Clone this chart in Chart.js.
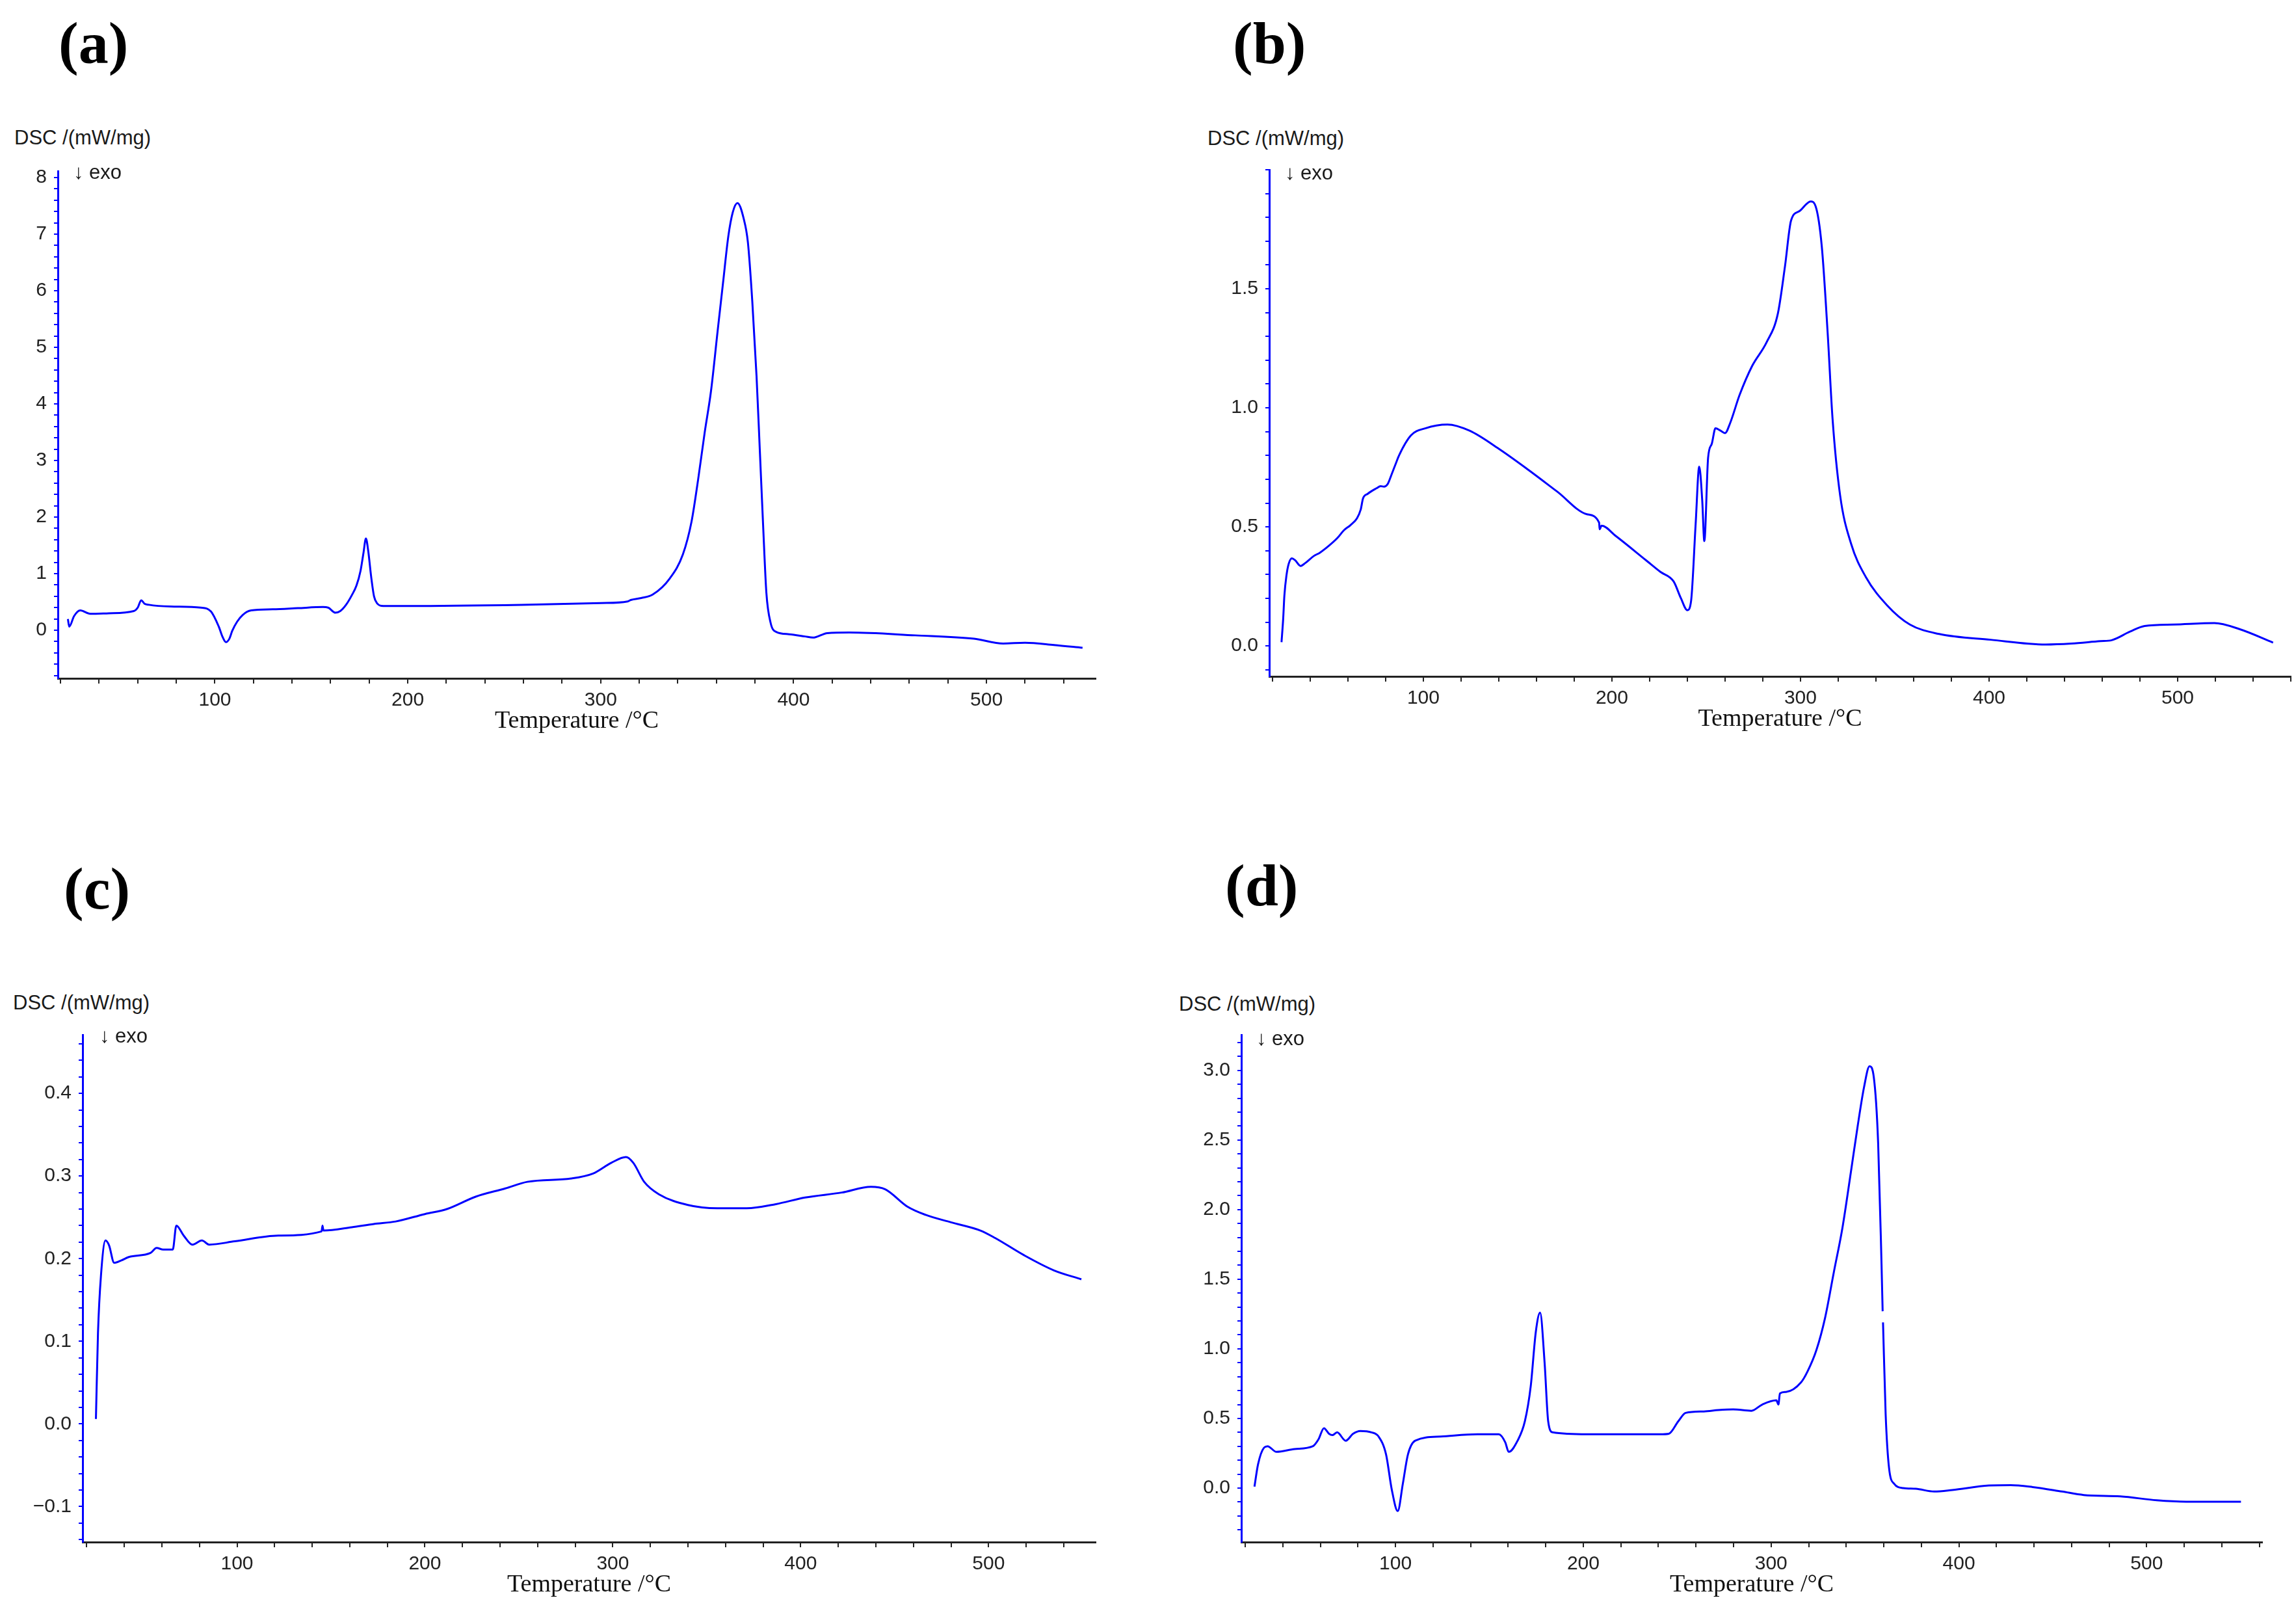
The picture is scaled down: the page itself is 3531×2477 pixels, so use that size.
<!DOCTYPE html>
<html><head><meta charset="utf-8">
<script src="https://cdn.jsdelivr.net/npm/chart.js@4.4.1/dist/chart.umd.min.js"></script>
<style>
html,body{margin:0;padding:0;background:#fff;width:3531px;height:2477px;overflow:hidden;position:relative}
canvas{position:absolute}
.lbl{position:absolute;white-space:nowrap;font-family:"Liberation Sans",Arial,sans-serif;color:#1a1a1a;line-height:1;font-size:31px;transform:translateY(-50%)}
.pan{position:absolute;white-space:nowrap;font-family:"Liberation Serif","Times New Roman",serif;font-weight:bold;color:#000;line-height:1;font-size:92px;transform:translateY(-50%)}
</style></head><body>
<script>
// ---------- DATA ----------
const T_a = [23.8,24.5,27,30.2,35.4,45,58,60,61.8,63.5,65.8,77,92.7,98,102,104,105.7,107.5,109,111.5,114.4,118.8,130,143,156,158.7,162.5,165,168,171,173.4,175.5,177,178.3,179.5,181,182.5,184,187.3,200,259,300,314,315.6,321,326.9,335.9,342.6,347.1,350.5,353.9,357.2,360.6,363.4,366.2,368.5,370.9,374.1,376.3,378.6,380.8,382.5,384.2,385.9,388.1,391,397.7,406,410,417.5,428.9,463,493.5,508.7,520,535,549.8];
const V_a = [0.2,0.065,0.25,0.35,0.29,0.30,0.34,0.40,0.53,0.47,0.45,0.42,0.40,0.33,0.065,-0.12,-0.21,-0.15,-0.01,0.15,0.27,0.35,0.37,0.39,0.41,0.40,0.31,0.34,0.45,0.62,0.79,1.05,1.36,1.62,1.4,0.95,0.6,0.48,0.43,0.43,0.45,0.48,0.51,0.535,0.57,0.63,0.92,1.34,1.92,2.66,3.49,4.23,5.28,6.13,6.97,7.39,7.55,7.28,6.86,5.81,4.49,3.18,1.86,0.66,0.13,-0.03,-0.07,-0.11,-0.13,-0.05,-0.04,-0.09,-0.15,-0.235,-0.22,-0.26,-0.31];

const T_b = [24.8,25.7,26.3,27.4,28.6,30.3,32,34.9,37.2,41.8,45.2,49.8,54.4,57.9,61.3,64.8,66.8,68,70.5,75.1,77.4,79.1,81.1,83.1,85.4,87.1,93.4,101,112.8,124.5,140,155.6,171,186.8,193.2,193.5,194.5,202,217.9,225.7,232.7,236.6,240,242,244.4,246.3,247.9,249,251,253,254.9,257.6,260,262.6,267.7,274.3,282,288,291.8,295,299.6,305.4,308,311.3,314.4,317,321,326.8,334.6,346,358,373.5,400.8,430,443.6,459,465,474.7,482.5,498,519.5,533,550.6];
const V_b = [0.016,0.117,0.21,0.295,0.345,0.368,0.36,0.336,0.347,0.377,0.392,0.42,0.453,0.486,0.507,0.536,0.573,0.619,0.639,0.662,0.671,0.669,0.68,0.719,0.766,0.80,0.884,0.914,0.93,0.904,0.828,0.74,0.648,0.553,0.518,0.49,0.505,0.462,0.361,0.311,0.271,0.2,0.15,0.19,0.512,0.753,0.61,0.44,0.79,0.85,0.914,0.904,0.894,0.934,1.054,1.175,1.275,1.396,1.596,1.787,1.827,1.867,1.847,1.677,1.315,0.954,0.633,0.43,0.29,0.17,0.09,0.05,0.026,0.006,0.01,0.02,0.024,0.06,0.084,0.09,0.096,0.07,0.014];

const T_c = [24.9,26,27.6,30,31.9,34.6,38.5,42.4,54,57.2,60.7,65.8,67.7,71.6,76.3,81.3,85.2,98.8,122,145,145.5,146,161,172.8,184.4,200,211.7,227,242.8,254.5,277.8,289.5,299.2,307,310.9,316.7,324.5,340,355.6,371.2,386.8,402.3,421.8,437.4,445,456.8,466.5,480,495.7,503.5,519,534.6,549.4];
const V_c = [0.006,0.11,0.18,0.222,0.216,0.195,0.198,0.202,0.207,0.213,0.211,0.211,0.24,0.228,0.217,0.222,0.217,0.221,0.228,0.233,0.240,0.234,0.238,0.242,0.245,0.254,0.26,0.275,0.285,0.293,0.297,0.303,0.316,0.323,0.316,0.293,0.278,0.265,0.261,0.261,0.266,0.274,0.28,0.287,0.284,0.263,0.253,0.244,0.234,0.225,0.204,0.186,0.175];

const T_d = [24.9,26.8,30,31.9,36.6,46.3,56,59,61.9,64.6,66.5,68.9,73.5,77.4,81.3,87.2,91,95,98,101.2,103.9,106.6,110.5,124,143.6,155,158.4,160.3,165,168.9,172,174.7,177,179.4,181.3,183.7,202,240.9,245.5,250.6,254.5,264.2,272,279.8,289.5,295.3,302.8,303.9,304.7,307.9,316,319.5,324.1,328.7,333.4,338,342.6,346.1,349.5,352.4,354.7,357,358.8,359.4,359.5,359.6,361,362.8,365.6,370.3,377,386.8,396.5,416,427.6,439.3,454.9,466.5,486,505.4,521,550.2];
const V_d = [0.01,0.17,0.29,0.30,0.26,0.28,0.30,0.35,0.43,0.39,0.38,0.40,0.34,0.39,0.41,0.40,0.37,0.24,-0.01,-0.165,0.03,0.24,0.34,0.37,0.386,0.386,0.33,0.26,0.34,0.48,0.73,1.12,1.26,0.9,0.48,0.40,0.386,0.386,0.39,0.48,0.54,0.55,0.56,0.565,0.555,0.60,0.63,0.60,0.68,0.69,0.76,0.84,0.99,1.22,1.55,1.87,2.28,2.60,2.88,3.03,2.95,2.48,1.61,1.27,null,1.19,0.53,0.145,0.03,0.0,-0.005,-0.025,-0.014,0.018,0.021,0.007,-0.025,-0.05,-0.06,-0.088,-0.098,-0.098];

// tick labels
const xLabels = [100,200,300,400,500];
const xMinorStep = 20;
const yLabels_a = [0,1,2,3,4,5,6,7,8];
const yLabels_b = [0.0,0.5,1.0,1.5];
const yLabels_c = [-0.1,0.0,0.1,0.2,0.3,0.4];
const yLabels_d = [0.0,0.5,1.0,1.5,2.0,2.5,3.0];

const panelNames = ['(a)','(b)','(c)','(d)'];
const yTitle = 'DSC /(mW/mg)';
const exoText = '\u2193 exo';
const xTitle = 'Temperature /\u00B0C';

// ---------- LAYOUT ----------
const panels = [
  {T:T_a,V:V_a,yl:yLabels_a,ystep:0.2,dec:0,L:89,R:1685,Tp:263,B:1043,xmin:18.6,xmax:556.6,ymin:-0.85,ymax:8.115,
   name:[90,66],dsc:[22,211],exo:[113,264]},
  {T:T_b,V:V_b,yl:yLabels_b,ystep:0.1,dec:1,L:1952,R:3531,Tp:261,B:1040,xmin:18.3,xmax:560,ymin:-0.128,ymax:2.0,
   name:[1896,66],dsc:[1857,212],exo:[1976,265]},
  {T:T_c,V:V_c,yl:yLabels_c,ystep:0.02,dec:1,L:127,R:1685,Tp:1591,B:2371,xmin:17.8,xmax:557,ymin:-0.143,ymax:0.471,
   name:[98,1366],dsc:[20,1541],exo:[153,1592]},
  {T:T_d,V:V_d,yl:yLabels_d,ystep:0.1,dec:1,L:1909,R:3479,Tp:1591,B:2371,xmin:17.9,xmax:561.5,ymin:-0.388,ymax:3.256,
   name:[1884,1361],dsc:[1813,1543],exo:[1932,1596]}
];

const YW = 110, PT = 30, XH = 100;
const BLUE = '#0000ff', DARK = '#222222';
const tickFont = {family:'"Liberation Sans", Arial, sans-serif', size:30};

function addText(cls, txt, x, cy){
  const d = document.createElement('div');
  d.className = cls; d.textContent = txt;
  d.style.left = x + 'px'; d.style.top = cy + 'px';
  document.body.appendChild(d);
}

function fmt(v, dec){
  const s = v.toFixed(dec);
  return v < 0 ? '\u2212' + s.slice(1) : s;
}

panels.forEach((p, i) => {
  const PR = Math.max(0, 3531 - p.R > 6 ? 6 : 3531 - p.R);
  const cv = document.createElement('canvas');
  const W = (p.R - p.L) + YW + PR;
  const H = (p.B - p.Tp) + PT + XH;
  cv.width = W; cv.height = H;
  cv.style.width = W + 'px'; cv.style.height = H + 'px';
  cv.style.left = (p.L - YW) + 'px'; cv.style.top = (p.Tp - PT) + 'px';
  document.body.appendChild(cv);

  const pts = p.T.map((t, k) => ({x:t, y:p.V[k]}));

  new Chart(cv.getContext('2d'), {
    type: 'scatter',
    data: {datasets: [{data: pts, showLine: true, borderColor: BLUE, borderWidth: 3,
      pointRadius: 0, pointHoverRadius: 0, cubicInterpolationMode: 'monotone', spanGaps: false, fill: false}]},
    options: {
      responsive: false, animation: false, devicePixelRatio: 1,
      layout: {padding: {top: PT, right: PR, left: 0, bottom: 0}},
      plugins: {legend: {display: false}, tooltip: {enabled: false}},
      scales: {
        x: {
          type: 'linear', position: 'bottom', min: p.xmin, max: p.xmax,
          afterBuildTicks: s => {
            const arr = [];
            for (let v = xMinorStep; v <= p.xmax; v += xMinorStep) if (v >= p.xmin) arr.push({value: v});
            s.ticks = arr;
          },
          afterFit: s => { s.height = XH; },
          ticks: {autoSkip: false, maxRotation: 0, padding: 8, color: DARK, font: tickFont,
            callback: v => xLabels.includes(v) ? String(v) : ''},
          grid: {drawOnChartArea: false, drawTicks: true, tickLength: 8, color: DARK, lineWidth: 2},
          border: {display: true, color: DARK, width: 3},
          title: {display: true, text: xTitle, color: '#111',
            font: {family: '"Liberation Serif", "Times New Roman", serif', size: 38},
            padding: {top: 0, bottom: 11}}
        },
        y: {
          type: 'linear', min: p.ymin, max: p.ymax,
          afterBuildTicks: s => {
            const arr = [];
            const n0 = Math.ceil(p.ymin / p.ystep - 1e-6), n1 = Math.floor(p.ymax / p.ystep + 1e-6);
            for (let n = n0; n <= n1; n++) arr.push({value: Math.round(n * p.ystep * 1e6) / 1e6});
            s.ticks = arr;
          },
          afterFit: s => { s.width = YW; },
          ticks: {autoSkip: false, padding: 11, color: DARK, font: tickFont,
            callback: v => p.yl.some(l => Math.abs(l - v) < 1e-6) ? fmt(v, p.dec) : ''},
          grid: {drawOnChartArea: false, drawTicks: true, tickLength: 6, color: BLUE, lineWidth: 2},
          border: {display: true, color: BLUE, width: 3}
        }
      }
    }
  });

  addText('pan', panelNames[i], p.name[0], p.name[1]);
  addText('lbl', yTitle, p.dsc[0], p.dsc[1]);
  addText('lbl', exoText, p.exo[0], p.exo[1]);
});
</script>
</body></html>
